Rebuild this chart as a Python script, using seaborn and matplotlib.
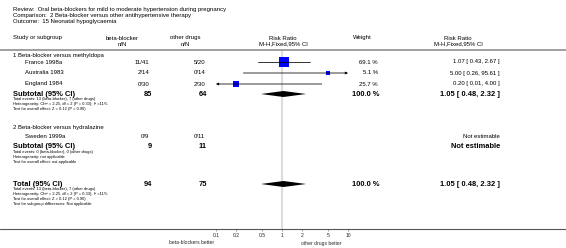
import numpy as np
import matplotlib
matplotlib.use("Agg")
import matplotlib.pyplot as plt
import matplotlib.transforms as mtransforms
from matplotlib.lines import Line2D
import seaborn as sns

# --- data -------------------------------------------------------------
TITLE_LINES = [
    "Review:  Oral beta-blockers for mild to moderate hypertension during pregnancy",
    "Comparison:  2 Beta-blocker versus other antihypertensive therapy",
    "Outcome:  15 Neonatal hypoglycaemia",
]
GROUPS = ["1 Beta-blocker versus methyldopa", "2 Beta-blocker versus hydralazine"]
STUDIES = ["France 1998a", "Australia 1983", "England 1984", "Sweden 1999a"]
STUDY_GROUP = [0, 0, 0, 1]
BB_EVENTS = [11, 2, 0, 0]
BB_TOTAL = [41, 14, 30, 9]
OD_EVENTS = [5, 0, 2, 0]
OD_TOTAL = [20, 14, 30, 11]
RR = [1.07, 5.00, 0.20, np.nan]
RR_LO = [0.43, 0.26, 0.01, np.nan]
RR_HI = [2.67, 95.61, 4.00, np.nan]
WEIGHT = [69.1, 5.1, 25.7, np.nan]

SUB_BB_TOTAL = [85, 9]
SUB_OD_TOTAL = [64, 11]
SUB_RR = [1.05, np.nan]
SUB_LO = [0.48, np.nan]
SUB_HI = [2.32, np.nan]
SUB_WEIGHT = [100.0, np.nan]
SUB_NOTES = [
    ["Total events: 13 (beta-blocker), 7 (other drugs)",
     "Heterogeneity: Chi\u00b2 = 2.25, df = 2 (P = 0.33); I\u00b2 =11%",
     "Test for overall effect: Z = 0.12 (P = 0.90)"],
    ["Total events: 0 (beta-blocker), 0 (other drugs)",
     "Heterogeneity: not applicable",
     "Test for overall effect: not applicable"],
]
TOTAL_BB, TOTAL_OD = 94, 75
TOTAL_RR, TOTAL_LO, TOTAL_HI = 1.05, 0.48, 2.32
TOTAL_NOTES = [
    "Total events: 13 (beta-blocker), 7 (other drugs)",
    "Heterogeneity: Chi\u00b2 = 2.25, df = 2 (P = 0.33); I\u00b2 =11%",
    "Test for overall effect: Z = 0.12 (P = 0.90)",
    "Test for subgroup differences: Not applicable",
]
TICKS = [0.1, 0.2, 0.5, 1, 2, 5, 10]
TICK_LABELS = ["0.1", "0.2", "0.5", "1", "2", "5", "10"]
LEFT_LABEL = "beta-blockers better"
RIGHT_LABEL = "other drugs better"

# --- layout (pixel rows / columns of a 566x248 canvas) ----------------
W, H = 566, 248
TITLE_Y = [9, 15, 21]
HEAD_Y1, HEAD_Y2 = 38, 44
HEAD_LINE_Y, BASE_Y = 49.5, 229
GROUP_Y = [56, 127]
STUDY_Y = [62, 73, 84, 136]
SUB_Y = [94, 147]
TOTAL_Y = 184
NOTE_STEP = 5
X_LEFT, X_STUDY = 13, 25
X_BB, X_OD = 149, 205
X_WEIGHT, X_RRTXT = 378, 500
AX_LEFT, AX_RIGHT = 212, 352
CLIP_LO, CLIP_HI = 0.1, 10

FS, FS_SMALL, FS_BOLD, FS_TICK = 4.3, 2.85, 5.4, 3.6

sns.set_theme(style="white")
plt.rcParams["font.family"] = ["Liberation Sans", "DejaVu Sans"]

fig = plt.figure(figsize=(W / 100, H / 100), dpi=100)
ax = fig.add_axes([AX_LEFT / W, 0, (AX_RIGHT - AX_LEFT) / W, 1])
ax.set_xscale("log")
decades = (AX_RIGHT - AX_LEFT) / 66.0
ax.set_xlim(10 ** (-decades / 2), 10 ** (decades / 2))
ax.set_ylim(H, 0)
ax.patch.set_alpha(0)
for side in ["top", "left", "right"]:
    ax.spines[side].set_visible(False)
ax.spines["bottom"].set_position(("data", BASE_Y))
ax.spines["bottom"].set_visible(False)
ax.set_yticks([])
ax.set_xticks(TICKS)
ax.set_xticklabels(TICK_LABELS)
ax.xaxis.set_minor_locator(matplotlib.ticker.NullLocator())
ax.tick_params(axis="x", direction="out", length=1.5, width=0.4, color="#555555",
               labelsize=FS_TICK, pad=1.6, bottom=True)
ax.grid(False)

tr = mtransforms.blended_transform_factory(fig.transFigure, ax.transData)


def put(x, y, s, ha="left", size=FS, bold=False):
    ax.text(x / W, y, s, transform=tr, ha=ha, va="center", fontsize=size,
            fontweight="bold" if bold else "normal", color="black")


# header
for y, s in zip(TITLE_Y, TITLE_LINES):
    put(X_LEFT, y, s)
put(X_LEFT, HEAD_Y1, "Study or subgroup")
put(122, HEAD_Y1, "beta-blocker", ha="center")
put(122, HEAD_Y2, "n/N", ha="center")
put(185, HEAD_Y1, "other drugs", ha="center")
put(185, HEAD_Y2, "n/N", ha="center")
put(283, HEAD_Y1, "Risk Ratio", ha="center")
put(283, HEAD_Y2, "M-H,Fixed,95% CI", ha="center")
put(362, HEAD_Y1, "Weight", ha="center")
put(458, HEAD_Y1, "Risk Ratio", ha="center")
put(458, HEAD_Y2, "M-H,Fixed,95% CI", ha="center")

fig.add_artist(Line2D([0, 1], [HEAD_LINE_Y, HEAD_LINE_Y], transform=tr,
                      color="#a0a0a0", lw=1.4))
fig.add_artist(Line2D([0, 1], [BASE_Y, BASE_Y], transform=tr,
                      color="#555555", lw=0.8))
ax.axvline(1, ymin=(H - BASE_Y) / H, ymax=(H - HEAD_LINE_Y) / H,
           color="#dcdcdc", lw=1.5, zorder=0)


def ci_line(lo, hi, y):
    lo_c, hi_c = max(lo, CLIP_LO), min(hi, CLIP_HI)
    props = dict(color="black", lw=0.55, shrinkA=0, shrinkB=0, mutation_scale=3.5)
    if lo < CLIP_LO and hi > CLIP_HI:
        ax.annotate("", xy=(hi_c, y), xytext=(lo_c, y), arrowprops=dict(arrowstyle="<|-|>", **props))
    elif hi > CLIP_HI:
        ax.annotate("", xy=(hi_c, y), xytext=(lo_c, y), arrowprops=dict(arrowstyle="-|>", **props))
    elif lo < CLIP_LO:
        ax.annotate("", xy=(lo_c, y), xytext=(hi_c, y), arrowprops=dict(arrowstyle="-|>", **props))
    else:
        ax.plot([lo_c, hi_c], [y, y], color="black", lw=0.55, zorder=4)


def diamond(rr, lo, hi, y, h=3.0):
    ax.fill([lo, rr, hi, rr], [y, y - h, y, y + h], color="black", lw=0, zorder=4)


# groups and studies
for g, gname in enumerate(GROUPS):
    put(X_LEFT, GROUP_Y[g], gname)

valid = [i for i in range(len(STUDIES)) if not np.isnan(RR[i])]
sns.scatterplot(x=[RR[i] for i in valid], y=[STUDY_Y[i] for i in valid],
                s=[WEIGHT[i] * 0.7 + 4 for i in valid], marker="s", color="#0000ff",
                edgecolor="none", linewidth=0, ax=ax, legend=False, zorder=3)

for i, name in enumerate(STUDIES):
    y = STUDY_Y[i]
    put(X_STUDY, y, name)
    put(X_BB, y, f"{BB_EVENTS[i]}/{BB_TOTAL[i]}", ha="right")
    put(X_OD, y, f"{OD_EVENTS[i]}/{OD_TOTAL[i]}", ha="right")
    if np.isnan(RR[i]):
        put(X_RRTXT, y, "Not estimable", ha="right")
    else:
        ci_line(RR_LO[i], RR_HI[i], y)
        put(X_WEIGHT, y, f"{WEIGHT[i]:.1f} %", ha="right")
        put(X_RRTXT, y, f"{RR[i]:.2f} [ {RR_LO[i]:.2f}, {RR_HI[i]:.2f} ]", ha="right")

# subtotals
for g in range(len(GROUPS)):
    y = SUB_Y[g]
    put(X_LEFT, y, "Subtotal (95% CI)", size=FS_BOLD, bold=True)
    put(X_BB + 3, y, str(SUB_BB_TOTAL[g]), ha="right", size=FS_BOLD, bold=True)
    put(X_OD + 2, y, str(SUB_OD_TOTAL[g]), ha="right", size=FS_BOLD, bold=True)
    if np.isnan(SUB_RR[g]):
        put(X_RRTXT, y, "Not estimable", ha="right", size=FS_BOLD, bold=True)
    else:
        diamond(SUB_RR[g], SUB_LO[g], SUB_HI[g], y)
        put(X_WEIGHT + 2, y, f"{SUB_WEIGHT[g]:.1f} %", ha="right", size=FS_BOLD, bold=True)
        put(X_RRTXT, y, f"{SUB_RR[g]:.2f} [ {SUB_LO[g]:.2f}, {SUB_HI[g]:.2f} ]",
            ha="right", size=FS_BOLD, bold=True)
    for k, note in enumerate(SUB_NOTES[g]):
        put(X_LEFT, y + NOTE_STEP * (k + 1), note, size=FS_SMALL)

# overall total
put(X_LEFT, TOTAL_Y, "Total (95% CI)", size=FS_BOLD, bold=True)
put(X_BB + 3, TOTAL_Y, str(TOTAL_BB), ha="right", size=FS_BOLD, bold=True)
put(X_OD + 2, TOTAL_Y, str(TOTAL_OD), ha="right", size=FS_BOLD, bold=True)
diamond(TOTAL_RR, TOTAL_LO, TOTAL_HI, TOTAL_Y)
put(X_WEIGHT + 2, TOTAL_Y, "100.0 %", ha="right", size=FS_BOLD, bold=True)
put(X_RRTXT, TOTAL_Y, f"{TOTAL_RR:.2f} [ {TOTAL_LO:.2f}, {TOTAL_HI:.2f} ]",
    ha="right", size=FS_BOLD, bold=True)
for k, note in enumerate(TOTAL_NOTES):
    put(X_LEFT, TOTAL_Y + NOTE_STEP * (k + 1), note, size=FS_SMALL)

# favours labels
ax.text(0.093, 243, LEFT_LABEL, ha="right", va="center", fontsize=FS_TICK)
ax.text(1.95, 243, RIGHT_LABEL, ha="left", va="center", fontsize=FS_TICK)

fig.savefig("out.png", dpi=100, facecolor="white")
